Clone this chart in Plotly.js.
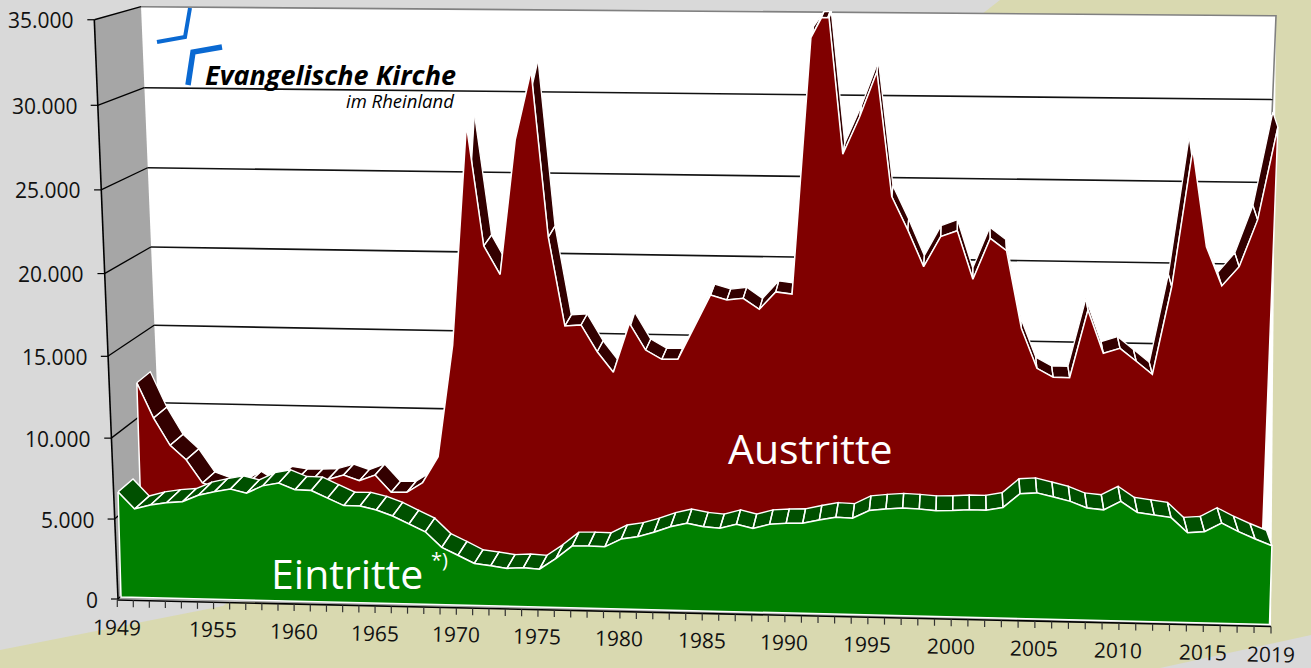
<!DOCTYPE html>
<html><head><meta charset="utf-8">
<script src="https://cdn.plot.ly/plotly-3.0.1.min.js"></script>
<style>html,body{margin:0;padding:0;background:#d9d9d9}#c{width:1311px;height:668px}</style>
</head><body><div id="c"></div>
<script>
// ---------- data ----------
const firstYear = 1949;
const austritte = [12350,10150,8450,7550,6100,5750,5630,6200,5600,6550,6400,6415,6465,6765,6430,6805,5730,5750,6375,8030,15010,28440,21125,19395,27570,31710,21720,16295,16370,14735,13480,16515,14885,14330,14345,16345,18320,18030,18145,17485,18565,18445,33810,35700,26925,29175,31840,24415,22425,20220,22045,22415,19500,21985,21250,16565,14135,13605,13595,17730,15115,15435,14660,13875,19210,27445,21645,19300,20470,23285,28800];
const eintritte = [6560,5520,5795,5955,6040,6460,6690,6880,6650,7120,7310,6920,6900,6450,6010,6010,5780,5430,4960,4500,3560,3100,2610,2490,2350,2410,2350,3030,3820,3840,3820,4320,4480,4780,5140,5380,5190,5110,5380,5150,5420,5500,5530,5750,5940,5900,6390,6500,6580,6540,6470,6500,6560,6560,6740,7600,7670,7440,7200,6820,6730,7260,6610,6480,6350,5460,5540,6080,5590,5170,4780];
const valueTicks = [0,5000,10000,15000,20000,25000,30000,35000];
const yearLabels = [1949,1955,1960,1965,1970,1975,1980,1985,1990,1995,2000,2005,2010,2015,2019];
const vMax = 35000;

// ---------- perspective model of the tilted 3-D chart ----------
const n = austritte.length - 1;
const uRaw = i => 16*i + 0.00688*i*i;
const u = i => uRaw(i)/uRaw(n);                        // horizontal position 0..1
const f = v => 0.0159*v + 1.857e-8*v*v;                // value -> height in px
const lerp = (a,b,t) => a + (b-a)*t;

const layerGreen = {xL:121, xR:1269.5, sL:-0.00045, sR:0.0005, y0L:597, y0R:624.5, kL:1, kR:1.03,
                    dx:t=>15-20.5*t, dy:t=>-(13+2.5*t)};
const layerRed   = {xL:143, xR:1260,   sL:-0.0005,  sR:0.00062, y0L:577, y0R:600.4, kL:0.975, kR:1,
                    dx:t=>13.5-18.5*t, dy:t=>-(11+4*Math.pow(t,12))};
function project(L,i,v){
  const t = u(i);
  return [lerp(L.xL,L.xR,t) + lerp(L.sL,L.sR,t)*v,
          lerp(L.y0L,L.y0R,t) - lerp(L.kL,L.kR,t)*f(v)];
}
// value axis (front-left edge) and back wall
const axisX = i => 117.3 + uRaw(i)*(1271-117.3)/uRaw(n);
const axisPt = v => [118 - 23.7*v/vMax, 599 - f(v)];
const wallL  = v => [164 - 23*v/vMax, 555 - 0.9465*f(v)];
const wallR  = v => [1276 - 0.68*(vMax-v)/1000, 583.4 - 0.98*f(v)];

// series clipped at the top of the value axis, as the chart does
function clipped(vals){
  const out = [];
  vals.forEach((v,i)=>{
    if(i>0){
      const p = vals[i-1];
      if((p-vMax)*(v-vMax)<0) out.push([i-1+(vMax-p)/(v-p), vMax]);
    }
    out.push([i, Math.min(v,vMax)]);
  });
  return out;
}
function quads(L,pts){
  const xs=[],ys=[];
  const back = (i,v)=>{
    const p=project(L,i,v), t=u(i), d = v>=vMax ? -6 : L.dy(t);
    return [p[0]+L.dx(t), p[1]+d];
  };
  for(let k=0;k<pts.length-1;k++){
    const [i0,v0]=pts[k],[i1,v1]=pts[k+1];
    [project(L,i0,v0),project(L,i1,v1),back(i1,v1),back(i0,v0),project(L,i0,v0)]
      .forEach(p=>{xs.push(p[0]);ys.push(p[1]);});
    xs.push(null);ys.push(null);
  }
  return {xs,ys};
}
function frontPoly(L,pts){
  const top = pts.map(([i,v])=>project(L,i,v));
  const a = project(L,0,0), b = project(L,n,0);
  const all = top.concat([b,a,top[0]]);
  return {xs:all.map(p=>p[0]),ys:all.map(p=>p[1])};
}
const rp = clipped(austritte), gp = clipped(eintritte);
const rq = quads(layerRed,rp), gq = quads(layerGreen,gp);
const rf = frontPoly(layerRed,rp), gf = frontPoly(layerGreen,gp);

const fmt = v => String(v).replace(/\B(?=(\d{3})+$)/g,'.');

// ---------- frame lines ----------
const seg = (arr)=>{const xs=[],ys=[];arr.forEach(([a,b])=>{xs.push(a[0],b[0],null);ys.push(a[1],b[1],null);});return {xs,ys};};
const grid = seg(valueTicks.filter(v=>v>0&&v<vMax).map(v=>[wallL(v),wallR(v)]));
const slants = seg(valueTicks.map(v=>[axisPt(v),wallL(v)]));
const yTicks = seg(valueTicks.map(v=>{const p=axisPt(v);return [p,[p[0]-7,p[1]]];}));
const yAxis = seg([[axisPt(0),axisPt(vMax)]]);
const axisY = i => 600 + 26.5*u(i);
const idx = Array.from({length:n+1},(_,i)=>i);
const xTicks = seg(idx.map(i=>[[axisX(i),axisY(i)],[axisX(i),axisY(i)+7]]));
const xAxis = seg([[[axisX(0),axisY(0)],[axisX(n),axisY(n)]]]);

const lineTrace=(s,color,w)=>({type:'scatter',mode:'lines',x:s.xs,y:s.ys,line:{color,width:w},hoverinfo:'skip',showlegend:false,connectgaps:false});
const polyTrace=(s,fill,lc,lw,name)=>({type:'scatter',mode:'lines',name,x:s.xs,y:s.ys,fill:'toself',fillcolor:fill,line:{color:lc,width:lw},hoverinfo:'skip',showlegend:false});

const traces=[
  lineTrace(grid,'#111',1.6),
  lineTrace(slants,'#000',1.3),
  lineTrace(yTicks,'#000',1.2),
  lineTrace(yAxis,'#000',1.6),
  lineTrace(xAxis,'#000',1.6),
  lineTrace(xTicks,'#333',1.2),
  polyTrace(rq,'#330000','#ffffff',1.3,'Austritte Tiefe'),
  polyTrace(rf,'#800000','#ffffff',1.5,'Austritte'),
  polyTrace(gq,'#005000','#ffffff',1.4,'Eintritte Tiefe'),
  polyTrace(gf,'#008000','#ffffff',1.5,'Eintritte')
];

// ---------- text ----------
const FONT='"Open Sans", sans-serif';
const ann=[];
valueTicks.forEach(v=>{
  const p=axisPt(v);
  ann.push({x:p[0]-18,y:p[1]+0.5,text:fmt(v),xanchor:'right',yanchor:'middle',showarrow:false,font:{family:FONT,size:21,color:'#111'}});
});
yearLabels.forEach(y=>{
  const i=y-firstYear;
  ann.push({x:axisX(i)-0.5,y:626.5+27*u(i),text:String(y),xanchor:'center',yanchor:'middle',textangle:1.3,showarrow:false,font:{family:FONT,size:21,color:'#111'}});
});
ann.push({x:810,y:447.5,text:'Austritte',xanchor:'center',yanchor:'middle',showarrow:false,font:{family:FONT,size:41,color:'#fff'}});
ann.push({x:346.5,y:573,text:'Eintritte',xanchor:'center',yanchor:'middle',showarrow:false,font:{family:FONT,size:41,color:'#fff'}});
ann.push({x:439,y:559,text:'*)',xanchor:'center',yanchor:'middle',showarrow:false,font:{family:FONT,size:20,color:'#fff'}});
ann.push({x:457.5,y:74,text:'<b><i>Evangelische Kirche</i></b>',xanchor:'right',yanchor:'middle',showarrow:false,font:{family:FONT,size:27,color:'#000'}});
ann.push({x:457,y:100,text:'<i>im Rheinland</i>',xanchor:'right',yanchor:'middle',showarrow:false,font:{family:FONT,size:18.5,color:'#000'}});

// ---------- frame shapes ----------
const path=a=>'M'+a.map(p=>p[0]+','+p[1]).join('L')+'Z';
const open=a=>'M'+a.map(p=>p[0]+','+p[1]).join('L');
const sh=(d,fill,lc,lw)=>({type:'path',path:d,xref:'x',yref:'y',layer:'below',fillcolor:fill,line:{color:lc||'rgba(0,0,0,0)',width:lw||0}});
const shapes=[
  sh(path([[1000,0],[1311,0],[1311,635],[1160,668],[0,668],[0,650],[223,606]]),'#d9d9b0'),
  sh(path([wallL(vMax),wallR(vMax),[1271,626],axisPt(0)]),'#ffffff'),
  sh(path([axisPt(vMax),wallL(vMax),wallL(0),axisPt(0)]),'#a6a6a6'),
  sh(path([[121,597],[1269.5,624.5],[1271,626.5],axisPt(0)]),'#a0a0a0'),
  sh(open([wallL(vMax),wallR(vMax),[1272,115]]),'rgba(0,0,0,0)','#808080',1.6),
  sh(open([[190,8],[185,37],[157,42]]),'rgba(0,0,0,0)','#0a69d2',4),
  sh(open([[222,47],[193,52],[188,85]]),'rgba(0,0,0,0)','#0a69d2',5.5)
];

Plotly.newPlot('c',traces,{
  width:1311,height:668,margin:{l:0,r:0,t:0,b:0},
  paper_bgcolor:'#d9d9d9',plot_bgcolor:'rgba(0,0,0,0)',showlegend:false,
  xaxis:{range:[0,1311],visible:false,fixedrange:true},
  yaxis:{range:[668,0],visible:false,fixedrange:true},
  annotations:ann,shapes:shapes,hovermode:false
},{displayModeBar:false,staticPlot:true});
</script></body></html>
